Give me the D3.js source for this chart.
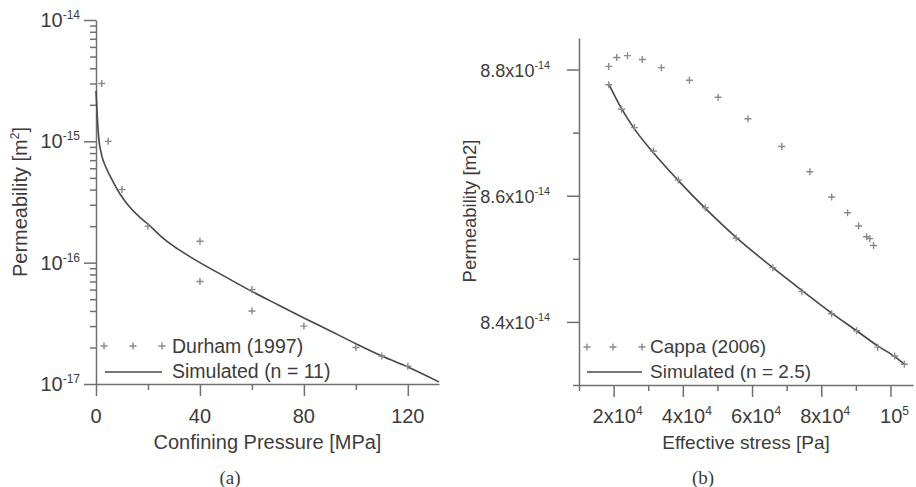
<!DOCTYPE html>
<html>
<head>
<meta charset="utf-8">
<script src="https://cdn.jsdelivr.net/npm/d3@7"></script>
<style>
  body { margin: 0; background: #fff; }
  text { font-family: "Liberation Sans", Arial, sans-serif; fill: #3c3c3c; }
</style>
</head>
<body>
<svg id="chart" width="916" height="487"></svg>
<script>
// ---- panel (a): Durham (1997) vs simulated (n = 11) ----
const durhamP = [2.2, 4.7, 10, 20, 40, 40, 60, 60, 80, 100, 110, 120];
const durhamK = [3e-15, 1e-15, 4e-16, 2e-16, 1.5e-16, 7e-17, 6e-17, 4e-17, 3e-17, 2e-17, 1.7e-17, 1.4e-17];

const simAP = [0, 0.5, 1, 2, 4, 6, 9, 12, 17, 20, 25, 30, 35, 40, 50, 60, 70, 80, 90, 100, 110, 120, 132];
const simAK = [2.6e-15, 1.6e-15, 1.1e-15, 8.0e-16, 6.0e-16, 4.9e-16, 3.75e-16, 3.05e-16, 2.35e-16, 2.08e-16,
               1.65e-16, 1.36e-16, 1.16e-16, 1.0e-16, 7.6e-17, 5.8e-17, 4.5e-17, 3.5e-17, 2.75e-17, 2.15e-17,
               1.7e-17, 1.38e-17, 1.04e-17];

const pressureMajor = [0, 40, 80, 120];
const pressureMinor = [20, 60, 100];
const permExponents = [-14, -15, -16, -17];

// ---- panel (b): Cappa (2006) vs simulated (n = 2.5) ----
const cappaUpS = [18600, 20900, 24000, 28300, 33800, 41900, 50200, 58800, 68600, 76700, 83000, 87600, 90800, 93100, 94000, 95100];
const cappaUpK = [8.805e-14, 8.819e-14, 8.822e-14, 8.816e-14, 8.803e-14, 8.783e-14, 8.756e-14, 8.722e-14,
                  8.678e-14, 8.638e-14, 8.598e-14, 8.573e-14, 8.552e-14, 8.535e-14, 8.532e-14, 8.521e-14];

const cappaLowS = [18600, 22300, 26000, 31500, 38700, 46500, 55400, 66000, 74400, 83000, 90200, 96300, 101200, 104000];
const cappaLowK = [8.776e-14, 8.737e-14, 8.708e-14, 8.671e-14, 8.625e-14, 8.581e-14, 8.533e-14, 8.486e-14,
                   8.448e-14, 8.413e-14, 8.386e-14, 8.360e-14, 8.346e-14, 8.333e-14];

const simBS = [18600, 22300, 26000, 31500, 38700, 46500, 55400, 66000, 74400, 83000, 90200, 96300, 101200, 104000];
const simBK = [8.777e-14, 8.738e-14, 8.706e-14, 8.668e-14, 8.624e-14, 8.580e-14, 8.534e-14, 8.486e-14,
               8.450e-14, 8.414e-14, 8.386e-14, 8.362e-14, 8.345e-14, 8.333e-14];

const stressMajor = [2e4, 4e4, 6e4, 8e4, 1e5];
const stressMinor = [1e4, 3e4, 5e4, 7e4, 9e4];
const stressBase = ["2x10", "4x10", "6x10", "8x10", "10"];
const stressExp = ["4", "4", "4", "4", "5"];
const permBMajor = [8.4e-14, 8.6e-14, 8.8e-14];
const permBMinor = [8.3e-14, 8.5e-14, 8.7e-14];
const permBBase = ["8.4x10", "8.6x10", "8.8x10"];

const axisColor = "#707070";
const lineColor = "#474747";
const markColor = "#8a8a8a";

const svg = d3.select("#chart");

function styleAxis(g) {
  g.selectAll("path, line").attr("stroke", axisColor).attr("stroke-width", 1.5);
}
function plus(g, x, y) {
  g.append("path")
    .attr("d", `M${x - 3.5},${y}H${x + 3.5}M${x},${y - 3.5}V${y + 3.5}`)
    .attr("stroke", markColor).attr("stroke-width", 1.4);
}
// text with a superscript part
function supText(g, x, y, base, sup, size, anchor) {
  const t = g.append("text").attr("x", x).attr("y", y)
    .attr("text-anchor", anchor).attr("font-size", size);
  t.append("tspan").text(base);
  t.append("tspan").attr("dy", -8).attr("font-size", size * 0.6).text(sup);
  return t;
}

// ================= panel (a) =================
const xA = d3.scaleLinear().domain([0, 132]).range([96, 439]);
const yA = d3.scaleLog().domain([1e-17, 1e-14]).range([384, 20]);
const gA = svg.append("g");

gA.append("g").attr("transform", "translate(0,384)")
  .call(d3.axisBottom(xA).tickValues(pressureMajor).tickSize(12).tickSizeOuter(0).tickFormat(""))
  .call(styleAxis);
gA.append("g").attr("transform", "translate(0,384)")
  .call(d3.axisBottom(xA).tickValues(pressureMinor).tickSize(6).tickFormat(""))
  .call(g => g.select(".domain").remove()).call(styleAxis);

const minorA = [];
[-17, -16, -15].forEach(e => { for (let m = 2; m <= 9; m++) minorA.push(m * Math.pow(10, e)); });
gA.append("g").attr("transform", "translate(96,0)")
  .call(d3.axisLeft(yA).tickValues(permExponents.map(e => Math.pow(10, e))).tickSize(12).tickSizeOuter(0).tickFormat(""))
  .call(styleAxis);
gA.append("g").attr("transform", "translate(96,0)")
  .call(d3.axisLeft(yA).tickValues(minorA).tickSize(6).tickFormat(""))
  .call(g => g.select(".domain").remove()).call(styleAxis);

pressureMajor.forEach(v => {
  gA.append("text").attr("x", xA(v)).attr("y", 423).attr("text-anchor", "middle")
    .attr("font-size", 20).text(v);
});
permExponents.forEach(e => {
  supText(gA, 80, yA(Math.pow(10, e)) + 7, "10", String(e), 20, "end");
});

gA.append("text").attr("x", (96 + 439) / 2).attr("y", 449).attr("text-anchor", "middle")
  .attr("font-size", 20).text("Confining Pressure [MPa]");
const ylabA = gA.append("text").attr("transform", "translate(27,202) rotate(-90)")
  .attr("text-anchor", "middle").attr("font-size", 20);
ylabA.append("tspan").text("Permeability [m");
ylabA.append("tspan").attr("dy", -8).attr("font-size", 12).text("2");
ylabA.append("tspan").attr("dy", 8).text("]");

gA.append("path")
  .attr("d", d3.line().x((d, i) => xA(simAP[i])).y(d => yA(d)).curve(d3.curveMonotoneX)(simAK))
  .attr("fill", "none").attr("stroke", lineColor).attr("stroke-width", 1.6);
durhamP.forEach((p, i) => plus(gA, xA(p), yA(durhamK[i])));

// legend (a)
[104, 133, 162].forEach(x => plus(gA, x, 346));
gA.append("text").attr("x", 172).attr("y", 353).attr("font-size", 19.5).text("Durham (1997)");
gA.append("line").attr("x1", 105).attr("x2", 162).attr("y1", 372).attr("y2", 372)
  .attr("stroke", lineColor).attr("stroke-width", 1.6);
gA.append("text").attr("x", 172).attr("y", 378).attr("font-size", 19.5).text("Simulated (n = 11)");

gA.append("text").attr("x", 230).attr("y", 484).attr("text-anchor", "middle")
  .style("font-family", "'Liberation Serif', 'Times New Roman', serif").attr("font-size", 19).text("(a)");

// ================= panel (b) =================
const xB = d3.scaleLinear().domain([1e4, 1.065e5]).range([579, 913]);
const yB = d3.scaleLinear().domain([8.3e-14, 8.85e-14]).range([385, 38]);
const gB = svg.append("g");

gB.append("g").attr("transform", "translate(0,385)")
  .call(d3.axisBottom(xB).tickValues(stressMajor).tickSize(12).tickSizeOuter(0).tickFormat(""))
  .call(styleAxis);
gB.append("g").attr("transform", "translate(0,385)")
  .call(d3.axisBottom(xB).tickValues(stressMinor).tickSize(6).tickFormat(""))
  .call(g => g.select(".domain").remove()).call(styleAxis);
gB.append("g").attr("transform", "translate(579,0)")
  .call(d3.axisLeft(yB).tickValues(permBMajor).tickSize(12).tickSizeOuter(0).tickFormat(""))
  .call(styleAxis);
gB.append("g").attr("transform", "translate(579,0)")
  .call(d3.axisLeft(yB).tickValues(permBMinor).tickSize(6).tickFormat(""))
  .call(g => g.select(".domain").remove()).call(styleAxis);

stressMajor.forEach((v, i) => {
  supText(gB, xB(v) + 4, 423, stressBase[i], stressExp[i], 20, "middle");
});
permBMajor.forEach((v, i) => {
  supText(gB, 550, yB(v) + 7, permBBase[i], "-14", 18, "end");
});

gB.append("text").attr("x", (579 + 913) / 2).attr("y", 449).attr("text-anchor", "middle")
  .attr("font-size", 19).text("Effective stress [Pa]");
gB.append("text").attr("transform", "translate(476,211) rotate(-90)")
  .attr("text-anchor", "middle").attr("font-size", 18.5).text("Permeability [m2]");

gB.append("path")
  .attr("d", d3.line().x((d, i) => xB(simBS[i])).y(d => yB(d)).curve(d3.curveMonotoneX)(simBK))
  .attr("fill", "none").attr("stroke", lineColor).attr("stroke-width", 1.6);
cappaUpS.forEach((s, i) => plus(gB, xB(s), yB(cappaUpK[i])));
cappaLowS.forEach((s, i) => plus(gB, xB(s), yB(cappaLowK[i])));

// legend (b)
[587, 613, 642].forEach(x => plus(gB, x, 347));
gB.append("text").attr("x", 650).attr("y", 353).attr("font-size", 19).text("Cappa (2006)");
gB.append("line").attr("x1", 587).attr("x2", 642).attr("y1", 372).attr("y2", 372)
  .attr("stroke", lineColor).attr("stroke-width", 1.6);
gB.append("text").attr("x", 650).attr("y", 378).attr("font-size", 19).text("Simulated (n = 2.5)");

gB.append("text").attr("x", 703).attr("y", 484).attr("text-anchor", "middle")
  .style("font-family", "'Liberation Serif', 'Times New Roman', serif").attr("font-size", 19).text("(b)");
</script>
</body>
</html>
